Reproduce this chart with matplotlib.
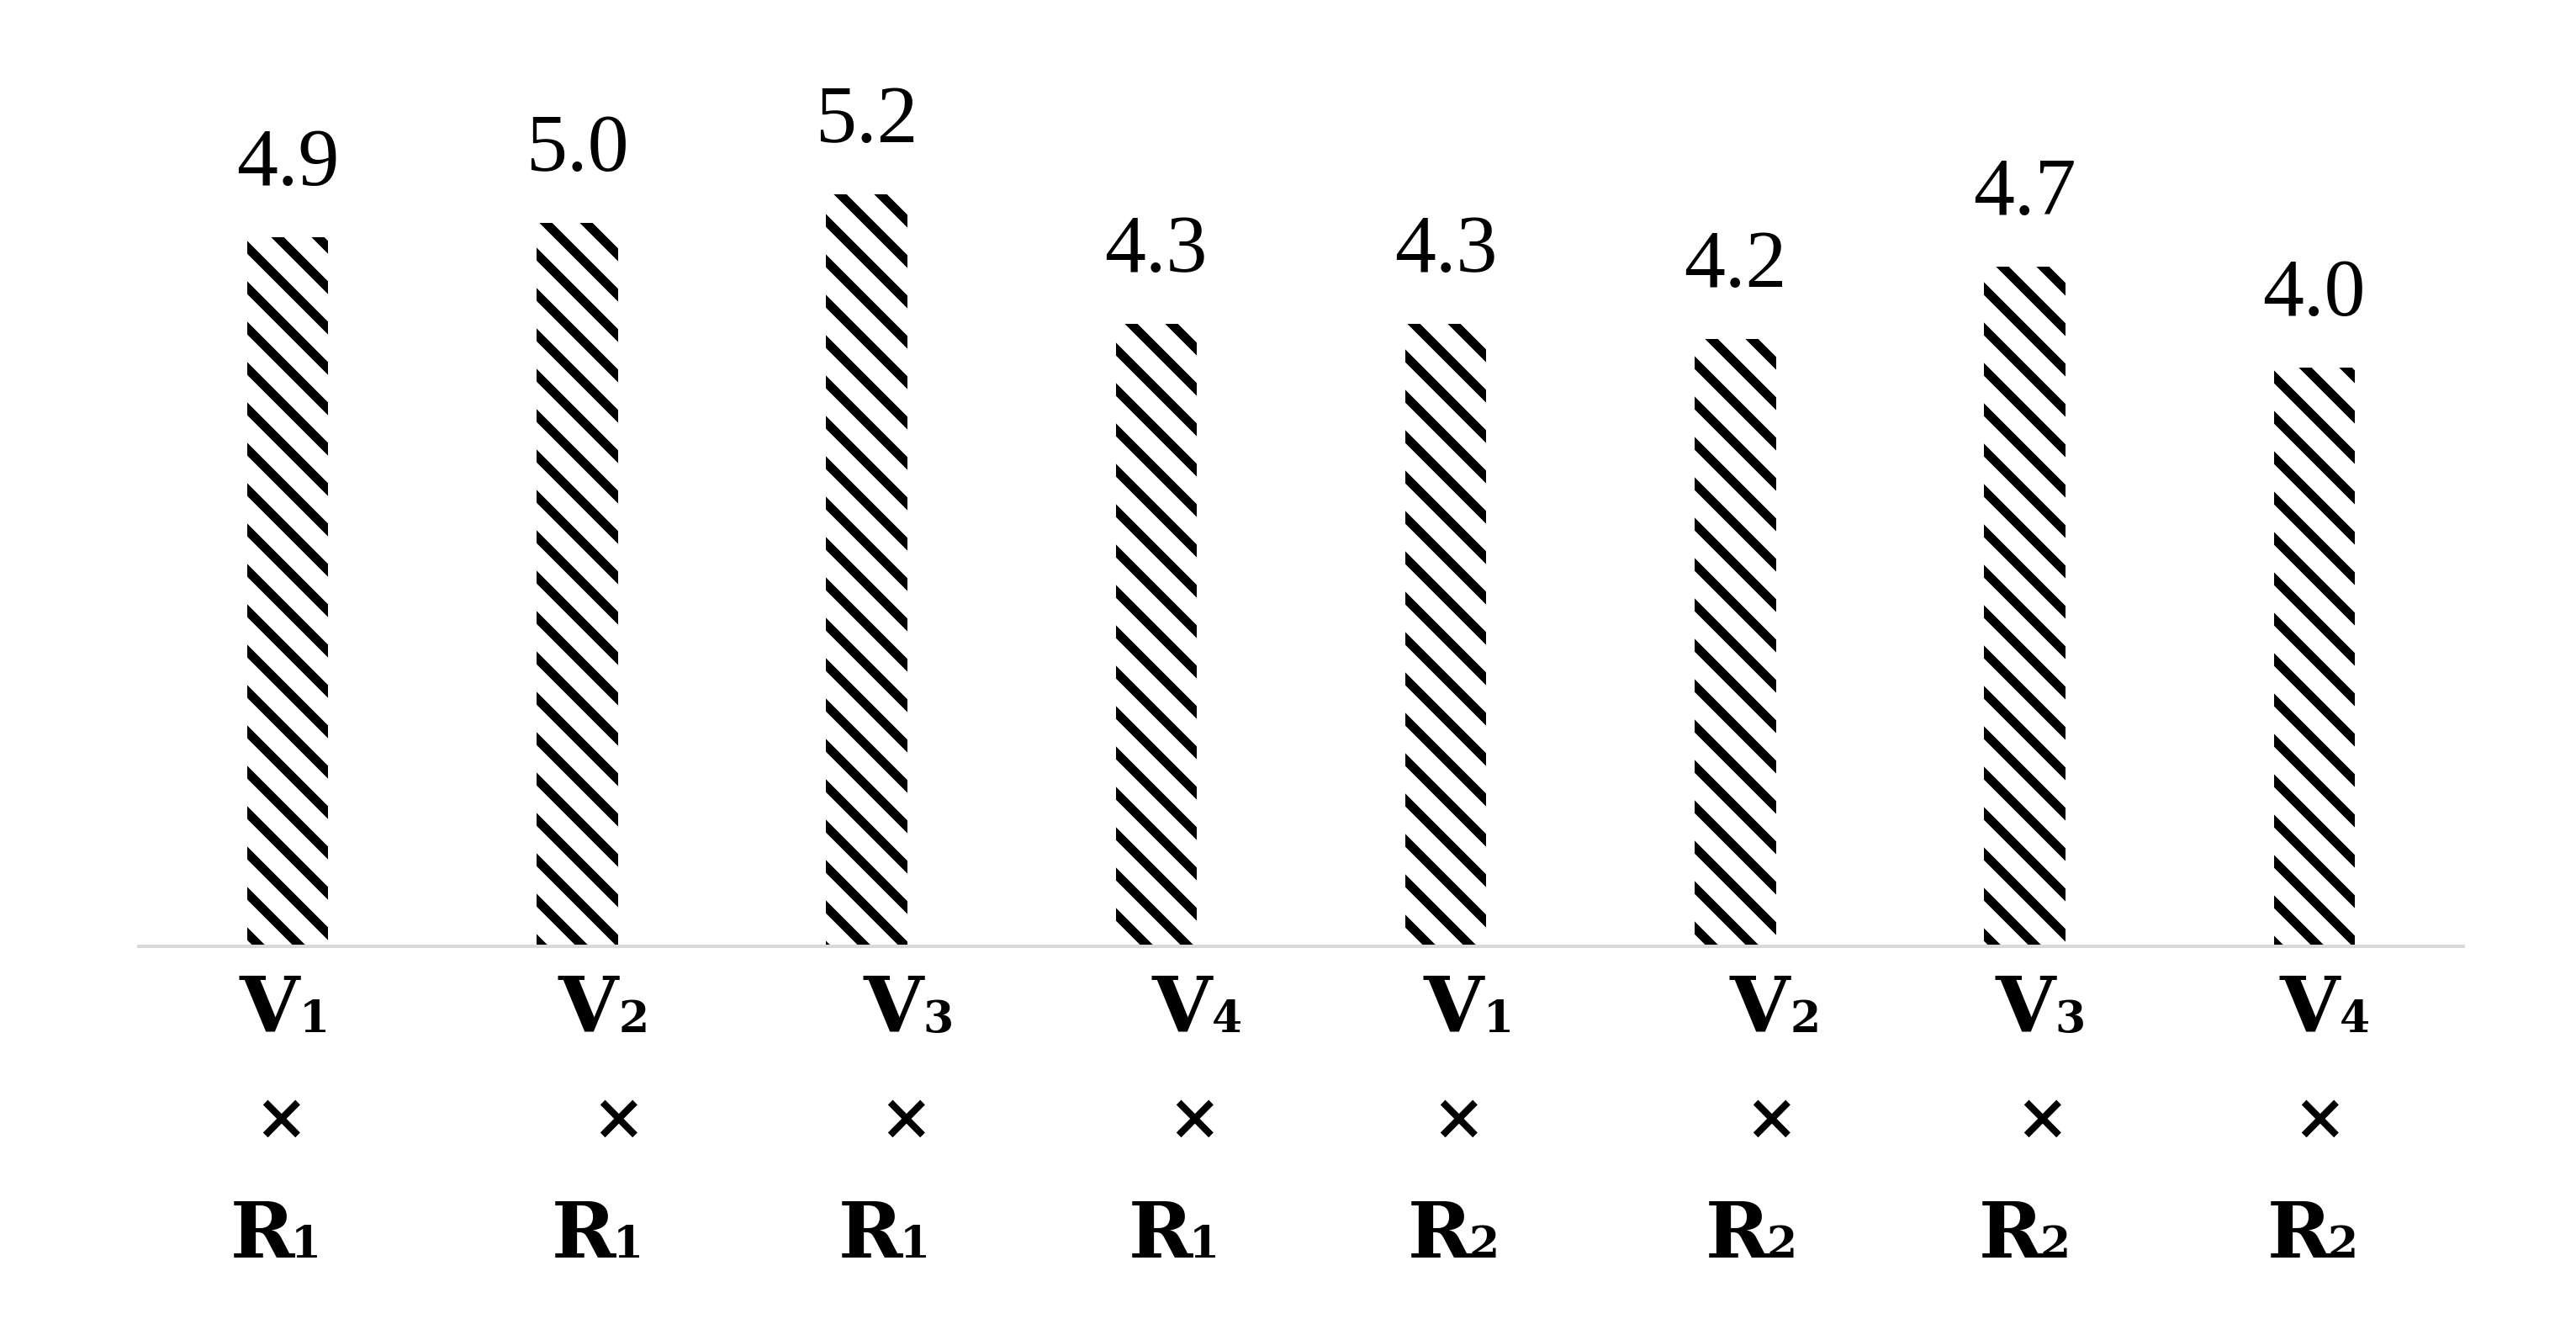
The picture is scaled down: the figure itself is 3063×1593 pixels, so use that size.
import numpy as np
import matplotlib
matplotlib.use("Agg")
import matplotlib.pyplot as plt

DPI = 288
OUT_PNG = "out.png"

# data
variety = ["V", "V", "V", "V", "V", "V", "V", "V"]
variety_idx = ["1", "2", "3", "4", "1", "2", "3", "4"]
spacing = ["R", "R", "R", "R", "R", "R", "R", "R"]
spacing_idx = ["1", "1", "1", "1", "2", "2", "2", "2"]
values = [4.9, 5.0, 5.2, 4.3, 4.3, 4.2, 4.7, 4.0]

# the category labels in the original are not quite centred on the bars (pixels)
nudge_v = [-4, 31, 49, 48, 27, 47, 18, 12]
nudge_x = [-8, 49, 46, 45, 15, 43, 20, 6]
nudge_r = [-8, 30, 27, 27, 15, 25, 6, 4]

plt.rcParams["hatch.linewidth"] = 2.7

fig = plt.figure(figsize=(3063 / DPI, 1593 / DPI), dpi=DPI)
ax = fig.add_axes([0.0538, 0.2938, 0.9025, 0.6478])

x = np.arange(len(values))
bars = ax.bar(x, values, width=0.28, color="white", edgecolor="black",
              linewidth=0, hatch="\\\\", zorder=2)

# value labels above bars
for xi, v in zip(x, values):
    ax.annotate("%.1f" % v, xy=(xi, v), xytext=(0, 15.5), textcoords="offset points",
                ha="center", va="baseline", fontsize=24.5, family="Liberation Serif")

# three-row category labels under the axis
px = 72.0 / DPI
lab = dict(textcoords="offset points", va="baseline", family="DejaVu Serif", fontweight="bold")
for i in range(len(values)):
    pv = (nudge_v[i] + 18) * px
    pr = (nudge_r[i] + 16) * px
    ax.annotate(variety[i], xy=(i, 0), xytext=(pv, -25.5), ha="right", fontsize=23, **lab)
    ax.annotate(variety_idx[i], xy=(i, 0), xytext=(pv, -25.5), ha="left", fontsize=13, **lab)
    ax.annotate("×", xy=(i, 0), xytext=(nudge_x[i] * px, -52), textcoords="offset points",
                ha="center", va="center", fontsize=19, fontweight="bold", family="DejaVu Serif")
    ax.annotate(spacing[i], xy=(i, 0), xytext=(pr, -92.5), ha="right", fontsize=23, **lab)
    ax.annotate(spacing_idx[i], xy=(i, 0), xytext=(pr - 1, -92.5), ha="left", fontsize=13, **lab)

ax.set_xlim(-0.515, 7.515)
ax.set_ylim(0, 6)
ax.set_xticks([])
ax.set_yticks([])
for side in ["top", "left", "right"]:
    ax.spines[side].set_visible(False)
ax.spines["bottom"].set_color("#d9d9d9")
ax.spines["bottom"].set_linewidth(1.0)

fig.savefig(OUT_PNG, dpi=DPI)
